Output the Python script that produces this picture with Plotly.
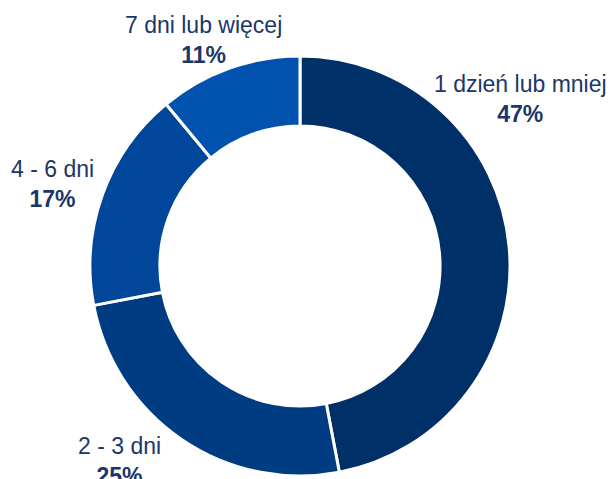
import plotly.graph_objects as go

categories = ["1 dzień lub mniej", "2 - 3 dni", "4 - 6 dni", "7 dni lub więcej"]
values = [47, 25, 17, 11]
colors = ["#003068", "#003C82", "#00469A", "#0052AE"]
# label anchor positions in pixels (x center, y center of the two-line label)
label_px = [(520, 99), (119, 461), (52, 184), (203, 40)]

W, H = 611, 479

fig = go.Figure(go.Pie(
    labels=categories,
    values=values,
    sort=False,
    direction="clockwise",
    rotation=0,
    hole=0.667,
    marker=dict(colors=colors, line=dict(color="white", width=3)),
    textinfo="none",
    hoverinfo="label+percent",
    domain=dict(x=[90 / W, 510 / W], y=[1 - 476 / H, 1 - 56 / H]),
    showlegend=False,
))

annotations = []
for cat, val, (px, py) in zip(categories, values, label_px):
    annotations.append(dict(
        x=px / W, y=1 - py / H, xref="paper", yref="paper",
        xanchor="center", yanchor="middle",
        text=f"{cat}<br><b>{val}%</b>",
        showarrow=False,
        align="center",
        font=dict(family="Liberation Sans, Arial, sans-serif", size=23, color="#1B3668"),
    ))

fig.update_layout(
    width=W, height=H,
    margin=dict(l=0, r=0, t=0, b=0),
    paper_bgcolor="white",
    plot_bgcolor="white",
    annotations=annotations,
)

fig.write_html("out.html")
